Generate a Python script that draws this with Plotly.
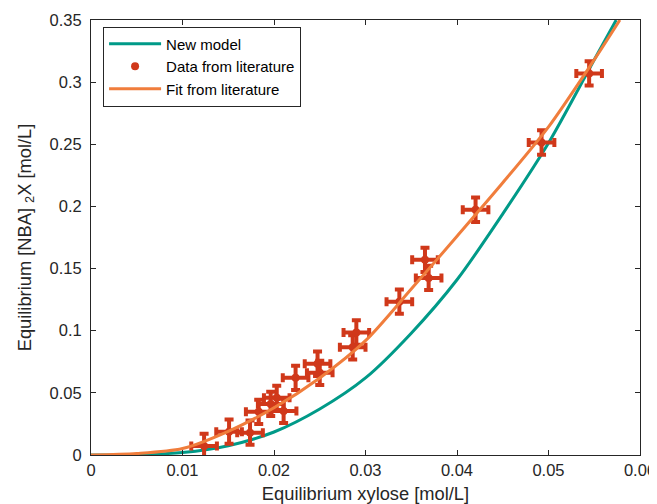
import plotly.graph_objects as go

# New model curve
model_x = [0, 0.005, 0.01, 0.015, 0.02, 0.025, 0.03, 0.035, 0.04, 0.045, 0.05, 0.055, 0.0574]
model_y = [0, 0.0003, 0.002, 0.0075, 0.0185, 0.037, 0.062, 0.098, 0.141, 0.194, 0.251, 0.318, 0.35]

# Fit from literature curve
fit_x = [0, 0.005, 0.01, 0.015, 0.02, 0.025, 0.03, 0.035, 0.04, 0.045, 0.05, 0.055, 0.0578]
fit_y = [0, 0.0012, 0.0052, 0.019, 0.038, 0.062, 0.092, 0.1335, 0.176, 0.219, 0.264, 0.318, 0.35]

# Data from literature
data_x = [0.01236, 0.01509, 0.01738, 0.01833, 0.01964, 0.0203, 0.02105, 0.02236, 0.02476,
          0.0250, 0.0286, 0.0290, 0.0337, 0.0365, 0.0369, 0.04203, 0.04924, 0.05444]
data_y = [0.0073, 0.0188, 0.0180, 0.0347, 0.0411, 0.046, 0.0355, 0.0621, 0.0734,
          0.0661, 0.0866, 0.0986, 0.1234, 0.157, 0.1425, 0.1973, 0.2514, 0.307]
err_x = [0.0014] * len(data_x)
err_y = [0.0098] * len(data_y)

x_ticks = [0, 0.01, 0.02, 0.03, 0.04, 0.05, 0.06]
x_tick_text = ["0", "0.01", "0.02", "0.03", "0.04", "0.05", "0.06"]
y_ticks = [0, 0.05, 0.1, 0.15, 0.2, 0.25, 0.3, 0.35]
y_tick_text = ["0", "0.05", "0.1", "0.15", "0.2", "0.25", "0.3", "0.35"]

TEAL = "#009A88"
ORANGE = "#F07D3C"
RED = "#D0381A"
AX = "#262626"
FONT = "Liberation Sans, Arial, sans-serif"

fig = go.Figure()
fig.add_trace(go.Scatter(x=model_x, y=model_y, mode="lines", name="New model",
                         line=dict(color=TEAL, width=3, shape="spline", smoothing=0.8)))
fig.add_trace(go.Scatter(x=data_x, y=data_y, mode="markers", name="Data from literature",
                         marker=dict(color=RED, size=8, symbol="circle"),
                         error_x=dict(type="data", array=err_x, color=RED, thickness=4, width=4.5),
                         error_y=dict(type="data", array=err_y, color=RED, thickness=4, width=4.5)))
fig.add_trace(go.Scatter(x=fit_x, y=fit_y, mode="lines", name="Fit from literature",
                         line=dict(color=ORANGE, width=3, shape="spline", smoothing=0.8)))

# The page body adds an 8px offset; margins compensate so the plot sits at 91..640 x 20..454
fig.update_layout(
    width=657, height=496,
    margin=dict(l=83, r=25, t=12, b=49, autoexpand=False),
    paper_bgcolor="white", plot_bgcolor="white",
    font=dict(family=FONT, color=AX, size=16.5),
    showlegend=True,
    legend=dict(x=0.022, y=0.985, xanchor="left", yanchor="top",
                bgcolor="white", bordercolor=AX, borderwidth=1,
                font=dict(family=FONT, size=15, color="black"),
                tracegroupgap=0, itemwidth=52),
)
fig.update_xaxes(range=[0, 0.06], tickvals=x_ticks, ticktext=x_tick_text,
                 ticks="inside", ticklen=5, tickcolor=AX, mirror="ticks", automargin=False,
                 showline=True, linecolor=AX, linewidth=1, showgrid=False, zeroline=False,
                 tickfont=dict(size=16.5, color=AX),
                 title=dict(text="Equilibrium xylose [mol/L]", font=dict(size=18.3, color=AX), standoff=10))
fig.update_yaxes(range=[0, 0.35], tickvals=y_ticks, ticktext=y_tick_text,
                 ticks="inside", ticklen=5, tickcolor=AX, mirror="ticks", automargin=False,
                 showline=True, linecolor=AX, linewidth=1, showgrid=False, zeroline=False,
                 tickfont=dict(size=16.5, color=AX), ticklabelstandoff=5,
                 title=dict(text="Equilibrium [NBA] <sub>2</sub>X [mol/L]", font=dict(size=18.3, color=AX), standoff=13))

fig.write_html("out.html")
